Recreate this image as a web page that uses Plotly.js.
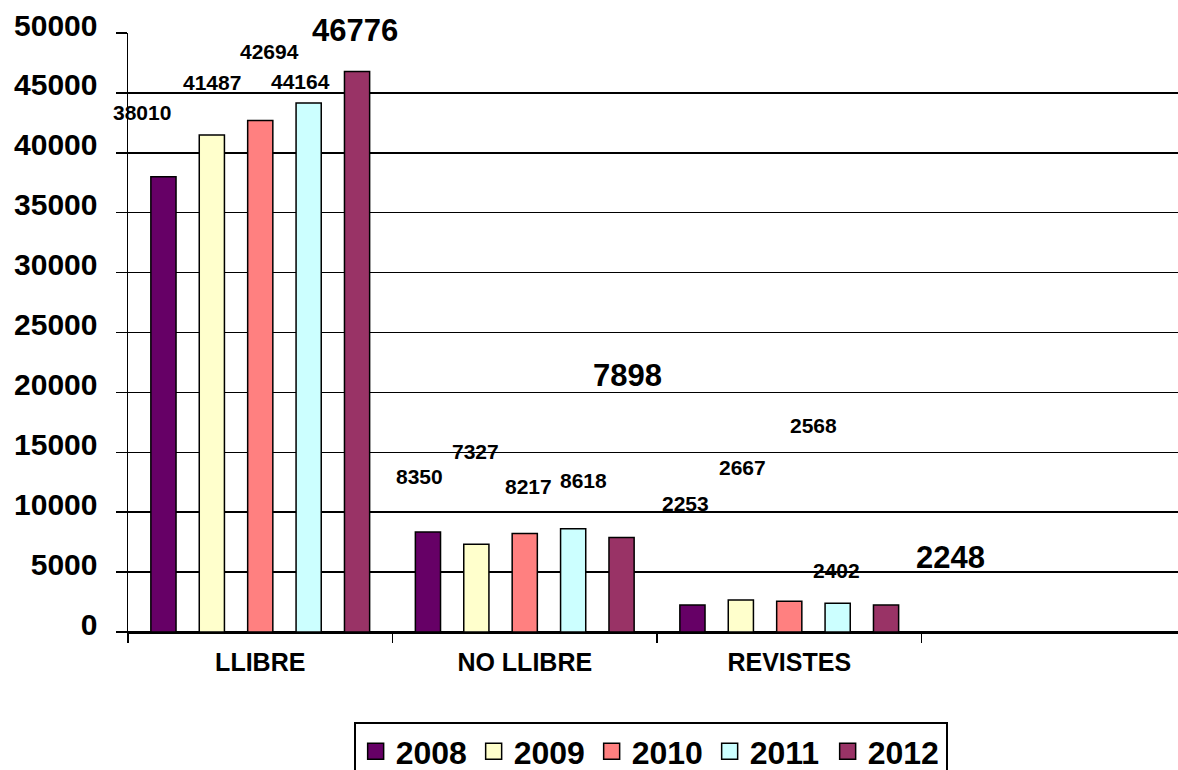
<!DOCTYPE html>
<html>
<head>
<meta charset="utf-8">
<script src="https://cdn.plot.ly/plotly-3.0.1.min.js"></script>
<style>
html,body{margin:0;padding:0;overflow:hidden;background:#fff;}
#chart{width:1186px;height:800px;}
</style>
</head>
<body>
<div id="chart"></div>
<script>
// ---- data ----
const categories = ["LLIBRE", "NO LLIBRE", "REVISTES"];
const years = ["2008", "2009", "2010", "2011", "2012"];
const v2008 = [38010, 8350, 2253];
const v2009 = [41487, 7327, 2667];
const v2010 = [42694, 8217, 2568];
const v2011 = [44164, 8618, 2402];
const v2012 = [46776, 7898, 2248];

// ---- styling (kept separate from data) ----
const series = [v2008, v2009, v2010, v2011, v2012];
const colors = ["#660066", "#FFFFCC", "#FF8080", "#CCFFFF", "#993366"];
// pixel offsets of the (misplaced) value labels relative to each bar top
const labelDx = [[-21, -8, -7], [0, -1, 2], [9, 4, 24], [-8, 10, -1], [-2, 6, 64]];
const labelDy = [[64, 55, 102], [52, 93, 133], [69, 47, 176], [21, 48, 33], [41, 162, 48]];
const labelSize = [21, 21, 21, 21, 31];

const FONT = "Liberation Sans, Arial, sans-serif";
const bargap = 0.085;

const traces = [];
series.forEach((vals, k) => {
  traces.push({
    type: "bar",
    name: years[k],
    x: categories,
    y: vals,
    marker: { color: colors[k], line: { color: "#000", width: 1.5 } },
    showlegend: false,
    hoverinfo: "x+y+name"
  });
});
// legend entries with larger square swatches
series.forEach((vals, k) => {
  traces.push({
    type: "scatter",
    mode: "markers",
    name: years[k],
    x: [null],
    y: [null],
    marker: { symbol: "square", size: 16, color: colors[k], line: { color: "#000", width: 1.5 } },
    showlegend: true,
    hoverinfo: "skip"
  });
});

const annotations = [];
series.forEach((vals, k) => {
  vals.forEach((v, i) => {
    annotations.push({
      x: i + (k - 2) * (1 - bargap) / 5,
      y: v,
      xref: "x", yref: "y",
      text: String(v),
      showarrow: false,
      xanchor: "center", yanchor: "middle",
      xshift: labelDx[k][i],
      yshift: labelDy[k][i],
      font: { family: FONT, size: labelSize[k], color: "#000", weight: "bold" }
    });
  });
});

const layout = {
  width: 1186,
  height: 800,
  margin: { l: 128, r: 0, t: 33, b: 168 },
  paper_bgcolor: "#fff",
  plot_bgcolor: "#fff",
  barmode: "group",
  bargap: bargap,
  bargroupgap: 0.48,
  font: { family: FONT, color: "#000" },
  xaxis: {
    type: "category",
    range: [-0.5, 3.5],
    tickson: "boundaries",
    ticks: "outside",
    ticklen: 9,
    tickwidth: 1.5,
    tickcolor: "#000",
    showline: true,
    linecolor: "#000",
    linewidth: 1.5,
    showgrid: false,
    zeroline: false,
    tickfont: { family: FONT, size: 25, color: "#000", weight: "bold" },
    ticklabelstandoff: 7,
    fixedrange: true
  },
  yaxis: {
    range: [0, 50000],
    dtick: 5000,
    tickformat: "d",
    ticks: "outside",
    ticklen: 11,
    tickwidth: 1.5,
    tickcolor: "#000",
    showline: true,
    linecolor: "#000",
    linewidth: 1.5,
    showgrid: true,
    gridcolor: "#000",
    gridwidth: 1.5,
    zeroline: true,
    zerolinecolor: "#000",
    zerolinewidth: 1.5,
    tickfont: { family: FONT, size: 30, color: "#000", weight: "bold" },
    ticklabelstandoff: 12,
    ticklabelshift: -8,
    fixedrange: true
  },
  legend: {
    orientation: "h",
    x: 0.494,
    xanchor: "center",
    y: -0.15,
    yanchor: "top",
    bordercolor: "#000",
    borderwidth: 2,
    bgcolor: "#fff",
    entrywidth: 73,
    entrywidthmode: "pixels",
    font: { family: FONT, size: 32, color: "#000", weight: "bold" },
    itemclick: false,
    itemdoubleclick: false
  },
  annotations: annotations,
  showlegend: true
};

Plotly.newPlot("chart", traces, layout, { displayModeBar: false, staticPlot: true });
</script>
</body>
</html>
